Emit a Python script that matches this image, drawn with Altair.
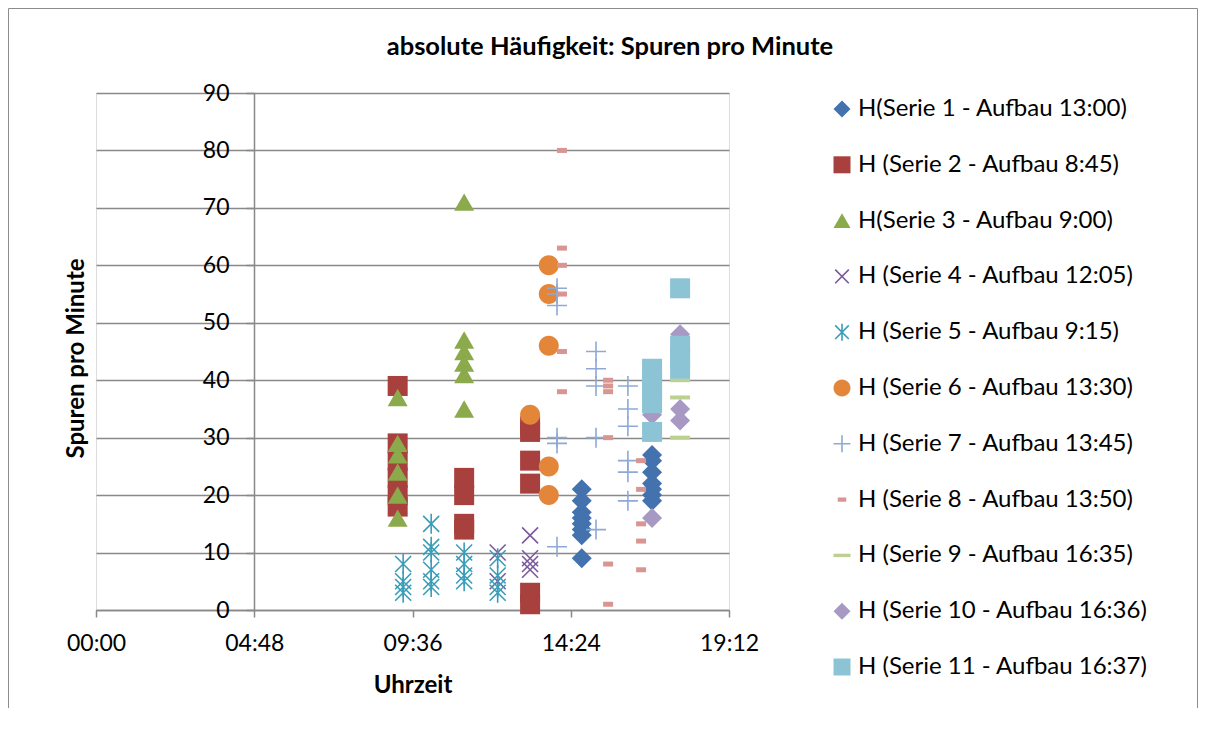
import json
import altair as alt
import pandas as pd

# ---------------- data ----------------
chart_title = "absolute Häufigkeit: Spuren pro Minute"

series_names = [
    "H(Serie 1 - Aufbau 13:00)",
    "H (Serie 2 - Aufbau 8:45)",
    "H(Serie 3 - Aufbau 9:00)",
    "H (Serie 4 - Aufbau 12:05)",
    "H (Serie 5 - Aufbau 9:15)",
    "H (Serie 6 - Aufbau 13:30)",
    "H (Serie 7 - Aufbau 13:45)",
    "H (Serie 8 - Aufbau 13:50)",
    "H (Serie 9 - Aufbau 16:35)",
    "H (Serie 10 - Aufbau 16:36)",
    "H (Serie 11 - Aufbau 16:37)",
]

s1_times = ["14:44"] * 8 + ["16:52"] * 7
s1_values = [21, 19, 17, 16, 15, 14, 13, 9, 27, 26, 24, 22, 21, 20, 19]

s2_times = ["9:09"] * 6 + ["11:10"] * 4 + ["13:10"] * 6
s2_values = [39, 29, 26, 23, 20, 18, 23, 20, 15, 14, 32, 31, 26, 22, 3, 1]

s3_times = ["9:09"] * 6 + ["11:10"] * 6
s3_values = [37, 29, 27, 24, 20, 16, 71, 47, 45, 43, 41, 35]

s4_times = ["12:11"] * 2 + ["13:10"] * 4
s4_values = [10, 5, 13, 9, 8, 7]

s5_times = ["9:19"] * 4 + ["10:10"] * 6 + ["11:10"] * 4 + ["12:11"] * 4
s5_values = [8, 5, 4, 3, 15, 11, 10, 7, 5, 4, 10, 8, 6, 5, 9, 6, 4, 3]

s6_times = ["13:10"] + ["13:44"] * 5
s6_values = [34, 60, 55, 46, 25, 20]

s7_times = ["13:59"] * 6 + ["15:10"] * 5 + ["16:08"] * 6
s7_values = [56, 55, 53, 30, 29, 11, 45, 42, 39, 30, 14, 39, 35, 32, 26, 24, 19]

s8_times = ["14:08"] * 6 + ["15:32"] * 6 + ["16:32"] * 5
s8_values = [80, 63, 60, 55, 45, 38, 40, 39, 38, 30, 8, 1, 26, 21, 15, 12, 7]

s9_times = ["16:52"] + ["17:43"] * 3
s9_values = [38, 40, 37, 30]

s10_times = ["16:52"] * 2 + ["17:43"] * 3
s10_values = [34, 16, 48, 35, 33]

s11_times = ["16:52"] * 5 + ["17:43"] * 4
s11_values = [42, 40, 38, 36, 31, 56, 46, 44, 42]

x_tick_values = [0, 4.8, 9.6, 14.4, 19.2]
x_tick_labels = ["00:00", "04:48", "09:36", "14:24", "19:12"]
y_tick_values = [0, 10, 20, 30, 40, 50, 60, 70, 80, 90]

# ---------------- styles ----------------
P_DIAMOND = "M0,-1L1,0L0,1L-1,0Z"
P_SQUARE = "M-1,-1L1,-1L1,1L-1,1Z"
P_TRI = "M0,-0.87L1,0.87L-1,0.87Z"
P_X = "M-0.8,-0.8L0.8,0.8M-0.8,0.8L0.8,-0.8"
P_AST = "M-0.8,-0.8L0.8,0.8M-0.8,0.8L0.8,-0.8M0,-1L0,1"
P_CIRCLE = "M-1,0A1,1,0,1,1,1,0A1,1,0,1,1,-1,0Z"
P_PLUS = "M-1,0L1,0M0,-1L0,1"
P_DASH_S = "M-0.5,-0.25L0.5,-0.25L0.5,0.25L-0.5,0.25Z"
P_DASH_W = "M-1,-0.2L1,-0.2L1,0.2L-1,0.2Z"

shapes = [P_DIAMOND, P_SQUARE, P_TRI, P_X, P_AST, P_CIRCLE, P_PLUS,
          P_DASH_S, P_DASH_W, P_DIAMOND, P_SQUARE]
colors = ["#4372AE", "#A8403D", "#8AAA4B", "#7A5A9C", "#3A9DB8", "#E3863A",
          "#8EA9D6", "#D99592", "#BCD190", "#A898C4", "#8CC4D6"]
is_filled = [True, True, True, False, False, True, False, True, True, True, True]
fills = [c if f else "transparent" for c, f in zip(colors, is_filled)]
strokes = ["transparent" if f else c for c, f in zip(colors, is_filled)]

all_times = [s1_times, s2_times, s3_times, s4_times, s5_times, s6_times,
             s7_times, s8_times, s9_times, s10_times, s11_times]
all_values = [s1_values, s2_values, s3_values, s4_values, s5_values, s6_values,
              s7_values, s8_values, s9_values, s10_values, s11_values]


def to_hours(t):
    h, m = t.split(":")
    return int(h) + int(m) / 60.0


rows = []
for i, (name, ts, vs) in enumerate(zip(series_names, all_times, all_values)):
    for t, v in zip(ts, vs):
        rows.append({"series": name, "order": i, "hour": to_hours(t), "value": v})
df = pd.DataFrame(rows)

FONT = "Lato"
GRAY = "#898989"

label_expr = json.dumps(x_tick_labels) + "[round(datum.value / 4.8)]"

legend = alt.Legend(
    orient="none", legendX=734, legendY=4, title=None,
    labelFont=FONT, labelFontSize=24, labelColor="black", labelLimit=500,
    symbolSize=289, symbolStrokeWidth=1.6, rowPadding=31.8,
    labelOffset=4, padding=0,
)

points = alt.Chart(df).mark_point(size=400, strokeWidth=1.6, opacity=1).encode(
    x=alt.X("hour:Q",
            scale=alt.Scale(domain=[0, 19.2], nice=False, zero=False),
            axis=alt.Axis(values=x_tick_values, labelExpr=label_expr,
                          title="Uhrzeit", grid=False,
                          domainColor=GRAY, domainWidth=1.5,
                          tickColor=GRAY, tickWidth=1.5, tickSize=7,
                          labelFont=FONT, labelFontSize=23, labelColor="black",
                          labelPadding=15, labelFlush=False, labelOverlap=False,
                          titleFont=FONT, titleFontSize=24, titleFontWeight="bold",
                          titleColor="black", titlePadding=18)),
    y=alt.Y("value:Q",
            scale=alt.Scale(domain=[0, 90], nice=False),
            axis=alt.Axis(values=y_tick_values, offset=-158, grid=True,
                          gridColor=GRAY, gridWidth=1.5,
                          domainColor=GRAY, domainWidth=1.5,
                          tickColor=GRAY, tickWidth=1.5, tickSize=8,
                          labelFont=FONT, labelFontSize=23, labelColor="black",
                          labelPadding=17, labelFlush=False,
                          title="Spuren pro Minute", titleFont=FONT,
                          titleFontSize=24, titleFontWeight="bold",
                          titleColor="black", titleAngle=-90,
                          titleX=-171, titleY=265, titleAlign="center",
                          titleBaseline="alphabetic")),
    shape=alt.Shape("series:N", scale=alt.Scale(domain=series_names, range=shapes),
                    legend=legend, title=None),
    fill=alt.Fill("series:N", scale=alt.Scale(domain=series_names, range=fills),
                  legend=legend, title=None),
    stroke=alt.Stroke("series:N", scale=alt.Scale(domain=series_names, range=strokes),
                      legend=legend, title=None),
    order=alt.Order("order:Q"),
)

frame = alt.Chart(alt.Data(values=[{"k": 1}])).mark_rect(
    filled=False, stroke="#8c8c8c", strokeWidth=1
).encode(
    x=alt.value(-87.5), x2=alt.value(1101.5),
    y=alt.value(-84.5), y2=alt.value(700),
)

title_text = alt.Chart(alt.Data(values=[{"t": chart_title}])).mark_text(
    font=FONT, fontSize=25.5, fontWeight="bold", color="black",
    align="center", baseline="alphabetic"
).encode(
    text="t:N", x=alt.value(514), y=alt.value(-38),
)

chart = alt.layer(frame, points, title_text).properties(
    width=633, height=517,
    autosize=alt.AutoSizeParams(type="none"),
    padding={"left": 88, "top": 85, "right": 469, "bottom": 98},
).configure_view(strokeWidth=0).configure(background="white")

chart.save("out.html", embed_options={"renderer": "svg", "actions": False})
